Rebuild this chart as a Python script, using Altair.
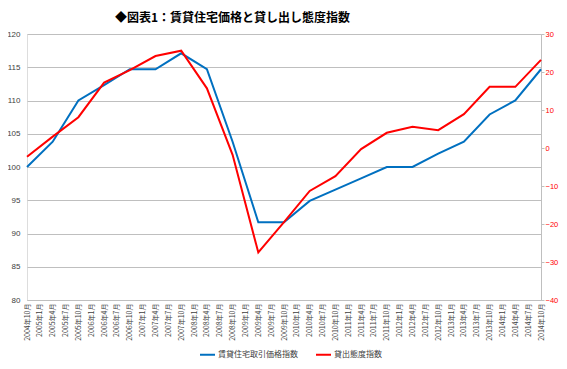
import altair as alt
import pandas as pd

# quarterly tick labels on the x axis
tick_labels = []
for y in range(2004, 2015):
    for m in (1, 4, 7, 10):
        if (y == 2004 and m < 10):
            continue
        tick_labels.append(f"{y}年{m}月")

# data points are semi-annual (every second tick label)
point_labels = tick_labels[::2]

blue_name = "賃貸住宅取引価格指数"
red_name = "貸出態度指数"
title_text = "◆図表1：賃貸住宅価格と貸し出し態度指数"

blue_values = [100.0, 103.8, 110.0, 112.3, 114.7, 114.7, 117.1, 114.7, 103.8, 91.7, 91.7,
               94.9, 96.6, 98.3, 100.0, 100.0, 102.0, 103.8, 107.9, 110.0, 114.7]
red_values = [-2.3, 3.0, 8.1, 17.2, 20.5, 24.2, 25.6, 15.7, -1.8, -27.5, -19.5,
              -11.3, -7.4, -0.3, 4.0, 5.6, 4.7, 8.9, 16.1, 16.1, 23.2]

left_ticks = [80, 85, 90, 95, 100, 105, 110, 115, 120]
right_ticks = [-40, -30, -20, -10, 0, 10, 20, 30]

df = pd.DataFrame({
    "label": point_labels * 2,
    "series": [blue_name] * len(point_labels) + [red_name] * len(point_labels),
    "value": blue_values + red_values,
})

W, H = 514, 266
FONT = "Noto Sans CJK JP"
PAD = {"left": 19, "top": 26, "right": 18, "bottom": 60}

x_enc = alt.X("label:N", sort=tick_labels,
              scale=alt.Scale(domain=tick_labels, type="point", padding=0),
              axis=alt.Axis(title=None, labelAngle=-90, labelFontSize=7, labelColor="#404040",
                            labelFont=FONT, ticks=False, labelPadding=3, domainColor="#BFBFBF",
                            labelOverlap=False, grid=False))

color_enc = alt.Color("series:N",
                      scale=alt.Scale(domain=[blue_name, red_name], range=["#0070C0", "#FF0000"]),
                      legend=alt.Legend(title=None, orient="none", legendX=172, legendY=312,
                                        direction="horizontal", symbolType="stroke",
                                        symbolSize=225, symbolStrokeWidth=2, labelFontSize=8,
                                        labelFont=FONT, labelColor="#404040", columnPadding=14,
                                        labelOffset=2, padding=0))

base = alt.Chart(df)

blue = base.transform_filter(alt.datum.series == blue_name).mark_line(strokeWidth=2).encode(
    x=x_enc,
    y=alt.Y("value:Q", scale=alt.Scale(domain=[80, 120], nice=False, zero=False),
            axis=alt.Axis(title=None, values=left_ticks, grid=True, gridColor="#BFBFBF",
                          gridWidth=1, domain=False, ticks=False, labelFontSize=8,
                          labelColor="#404040", labelPadding=7, orient="left")),
    color=color_enc,
)

red = base.transform_filter(alt.datum.series == red_name).mark_line(strokeWidth=2).encode(
    x=x_enc,
    y=alt.Y("value:Q", scale=alt.Scale(domain=[-40, 30], nice=False, zero=False),
            axis=alt.Axis(title=None, values=right_ticks, grid=False, domain=True,
                          domainColor="#BFBFBF", ticks=True, tickColor="#BFBFBF", tickSize=3,
                          labelFontSize=7.5, labelColor="#FF0000", labelPadding=1, orient="right")),
    color=color_enc,
)

one = pd.DataFrame({"t": [title_text]})

title = alt.Chart(one).mark_text(align="left", baseline="middle", fontSize=12, fontWeight="bold",
                                 font=FONT, color="#000000").encode(
    text="t:N", x=alt.value(88), y=alt.value(-16)
)

chart = alt.layer(blue, red, title).resolve_scale(y="independent").properties(
    width=W, height=H,
    autosize=alt.AutoSizeParams(type="none"),
    padding=PAD,
).configure_view(stroke=None).configure(font="Liberation Sans")

chart.save("out.html", embed_options={"renderer": "svg", "actions": False})
